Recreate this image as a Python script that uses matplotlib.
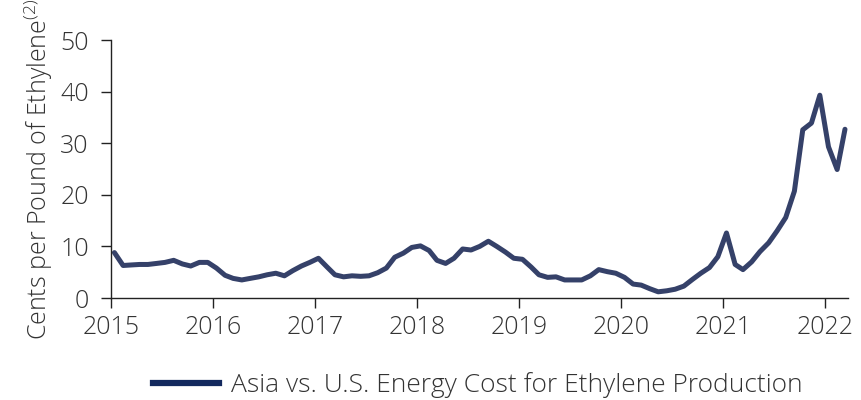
import matplotlib
matplotlib.use("Agg")
import matplotlib.pyplot as plt
import pandas as pd
import numpy as np
from matplotlib.lines import Line2D

plt.rcParams['font.family'] = ['Open Sans', 'DejaVu Sans']
plt.rcParams['mathtext.fontset'] = 'custom'
plt.rcParams['mathtext.it'] = 'Open Sans:italic:light'
plt.rcParams['mathtext.rm'] = 'Open Sans:light'

start_month = "2015-01-01"
values = [
    8.8, 6.3, 6.4, 6.5, 6.5, 6.7, 6.9, 7.3, 6.6, 6.2, 6.9, 6.9,
    5.8, 4.4, 3.8, 3.5, 3.8, 4.1, 4.5, 4.8, 4.3, 5.3, 6.2, 6.9,
    7.7, 6.0, 4.5, 4.1, 4.3, 4.2, 4.3, 4.9, 5.8, 7.9, 8.7, 9.8,
    10.1, 9.2, 7.3, 6.7, 7.7, 9.5, 9.3, 10.0, 11.0, 10.0, 8.9, 7.7,
    7.5, 6.0, 4.5, 4.0, 4.1, 3.5, 3.5, 3.5, 4.3, 5.5, 5.1, 4.8,
    4.0, 2.7, 2.5, 1.8, 1.2, 1.4, 1.7, 2.3, 3.6, 4.8, 5.9, 8.0,
    12.6, 6.5, 5.5, 7.0, 9.0, 10.7, 13.0, 15.6, 20.7, 32.6, 33.9, 39.3,
    29.3, 24.9, 32.7,
]
years = [2015, 2016, 2017, 2018, 2019, 2020, 2021, 2022]
yticks = [0, 10, 20, 30, 40, 50]
series_label = "Asia vs. U.S. Energy Cost for Ethylene Production"
ylabel = r"Cents per Pound of Ethylene$^{\mathit{(2)}}$"

dates = pd.date_range(start_month, periods=len(values), freq="MS") + pd.Timedelta(days=12)
x = np.array([d.year + (d.dayofyear - 1) / (366 if d.is_leap_year else 365) for d in dates])

fig = plt.figure(figsize=(8.61, 4.0), dpi=100)
ax = fig.add_axes([0.129, 0.255, 0.856, 0.645])

ax.plot(x, values, color="#354169", lw=3.6, solid_joinstyle="round",
        solid_capstyle="round", clip_on=False)

ax.set_xlim(2015, 2022.225)
ax.set_ylim(0, 50)
ax.set_xticks(years)
ax.set_xticklabels([str(y) for y in years])
ax.set_yticks(yticks)

for s in ["top", "right"]:
    ax.spines[s].set_visible(False)
for s in ["left", "bottom"]:
    ax.spines[s].set_color("#222222")
    ax.spines[s].set_linewidth(1.0)

ax.tick_params(axis="both", direction="out", length=7, width=1.0, color="#222222",
               labelsize=18, labelcolor="#333333")
ax.tick_params(axis="x", pad=5)
ax.tick_params(axis="y", pad=9)
for lab in ax.get_xticklabels() + ax.get_yticklabels():
    lab.set_fontweight("light")

ax.set_ylabel(ylabel, fontsize=18, color="#333333", fontweight="light", labelpad=4)

handle = Line2D([0], [0], color="#13295e", lw=4.5)
leg = fig.legend([handle], [series_label], loc="center",
                 bbox_to_anchor=(0.555, 0.037), frameon=False, fontsize=19,
                 handlelength=2.5, handletextpad=0.45)
for t in leg.get_texts():
    t.set_color("#333333")
    t.set_fontweight("light")

fig.savefig("out.png", dpi=100)
